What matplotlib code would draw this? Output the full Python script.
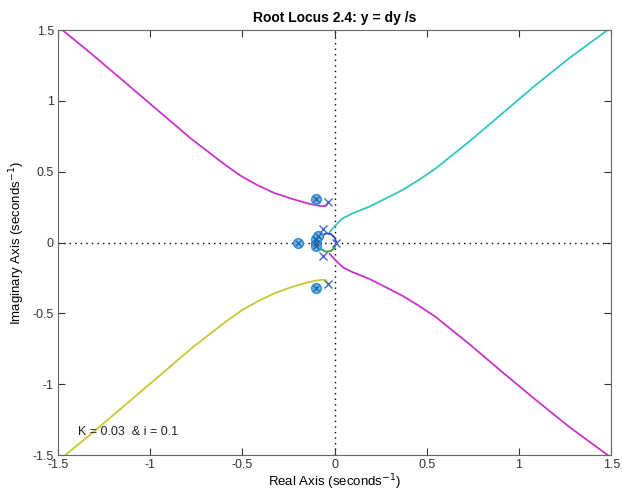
import matplotlib
matplotlib.use("Agg")
import matplotlib.pyplot as plt

plt.rcParams['font.family'] = ['Liberation Sans', 'DejaVu Sans']

# Branch data (real, imaginary)
upper_left_re = [-1.53, -1.476, -1.322, -1.141, -0.96, -0.78, -0.598, -0.508, -0.418, -0.328, -0.237, -0.146, -0.074, -0.047, -0.034]
upper_left_im = [1.555, 1.50, 1.336, 1.136, 0.935, 0.735, 0.553, 0.47, 0.405, 0.35, 0.311, 0.276, 0.257, 0.259, 0.283]

lower_left_re = [-1.52, -1.465, -1.31, -1.13, -0.95, -0.77, -0.59, -0.50, -0.41, -0.322, -0.235, -0.145, -0.074, -0.047, -0.034]
lower_left_im = [-1.555, -1.505, -1.34, -1.14, -0.94, -0.74, -0.558, -0.476, -0.41, -0.356, -0.315, -0.28, -0.263, -0.265, -0.29]

upper_right_re = [-0.027, 0.005, 0.042, 0.096, 0.186, 0.277, 0.367, 0.458, 0.548, 0.729, 0.91, 1.09, 1.271, 1.48, 1.52]
upper_right_im = [0.073, 0.122, 0.17, 0.205, 0.252, 0.311, 0.37, 0.443, 0.523, 0.712, 0.912, 1.112, 1.30, 1.50, 1.535]

lower_right_re = [-0.027, 0.009, 0.045, 0.096, 0.186, 0.277, 0.367, 0.458, 0.548, 0.729, 0.91, 1.09, 1.271, 1.47, 1.52]
lower_right_im = [-0.08, -0.13, -0.175, -0.208, -0.255, -0.315, -0.375, -0.447, -0.525, -0.715, -0.915, -1.11, -1.30, -1.49, -1.535]

loop_upper_re = [0.01, 0.0, -0.02, -0.045, -0.07, -0.09, -0.1]
loop_upper_im = [0.0, 0.035, 0.06, 0.065, 0.05, 0.03, 0.0]

loop_lower_re = [0.01, 0.0, -0.02, -0.045, -0.07, -0.09, -0.1]
loop_lower_im = [0.0, -0.035, -0.06, -0.065, -0.05, -0.03, 0.0]

poles_re = [-0.034, -0.034, -0.063, -0.063, 0.01]
poles_im = [0.283, -0.29, 0.097, -0.092, 0.0]

zeros_re = [-0.1, -0.1, -0.2, -0.1, -0.1, -0.1, -0.09]
zeros_im = [0.31, -0.32, 0.0, 0.0, 0.025, -0.025, 0.045]

xticks = [-1.5, -1, -0.5, 0, 0.5, 1, 1.5]
yticks = [-1.5, -1, -0.5, 0, 0.5, 1, 1.5]

fig = plt.figure(figsize=(6.23, 4.93), dpi=100)
ax = fig.add_axes([0.0931, 0.077, 0.888, 0.862])

ax.axhline(0, color='black', linestyle=(0, (1, 3)), linewidth=1.0, zorder=1)
ax.axvline(0, color='black', linestyle=(0, (1, 3)), linewidth=1.0, zorder=1)

lw = 1.3
ax.plot(upper_left_re, upper_left_im, color='#cc33cc', linewidth=lw, solid_joinstyle='round')
ax.plot(lower_left_re, lower_left_im, color='#c8c832', linewidth=lw, solid_joinstyle='round')
ax.plot(upper_right_re, upper_right_im, color='#33c4c4', linewidth=lw, solid_joinstyle='round')
ax.plot(lower_right_re, lower_right_im, color='#cc33cc', linewidth=lw, solid_joinstyle='round')
ax.plot(loop_upper_re, loop_upper_im, color='#3344cc', linewidth=lw)
ax.plot(loop_lower_re, loop_lower_im, color='#33a033', linewidth=lw)

ax.plot(zeros_re, zeros_im, linestyle='none', marker='o', markersize=7,
        markerfacecolor='#6db8e8', markeredgecolor='#2a8fd0', markeredgewidth=1.0, zorder=4)
ax.plot(zeros_re, zeros_im, linestyle='none', marker='x', markersize=4.5,
        color='#1f5f9f', markeredgewidth=0.9, zorder=5)
ax.plot(poles_re, poles_im, linestyle='none', marker='x', markersize=6,
        color='#4466cc', markeredgewidth=1.0, zorder=5)

ax.text(-1.39, -1.36, 'K = 0.03  & i = 0.1', fontsize=9, color='#222222')

ax.set_xlim(-1.5, 1.5)
ax.set_ylim(-1.5, 1.5)
ax.set_xticks(xticks)
ax.set_yticks(yticks)
ax.set_xticklabels(['-1.5', '-1', '-0.5', '0', '0.5', '1', '1.5'])
ax.set_yticklabels(['-1.5', '-1', '-0.5', '0', '0.5', '1', '1.5'])
ax.tick_params(direction='in', top=True, right=True, labelsize=9, colors='#333333', length=5, pad=3)
for s in ax.spines.values():
    s.set_color('#666666')

ax.set_xlabel('Real Axis (seconds$^{-1}$)', fontsize=9.5, labelpad=1)
ax.set_ylabel('Imaginary Axis (seconds$^{-1}$)', fontsize=9.5, labelpad=4)
ax.set_title('Root Locus 2.4: y = dy /s', fontsize=10, fontweight='bold', pad=6)

fig.savefig('out.png', dpi=100)
